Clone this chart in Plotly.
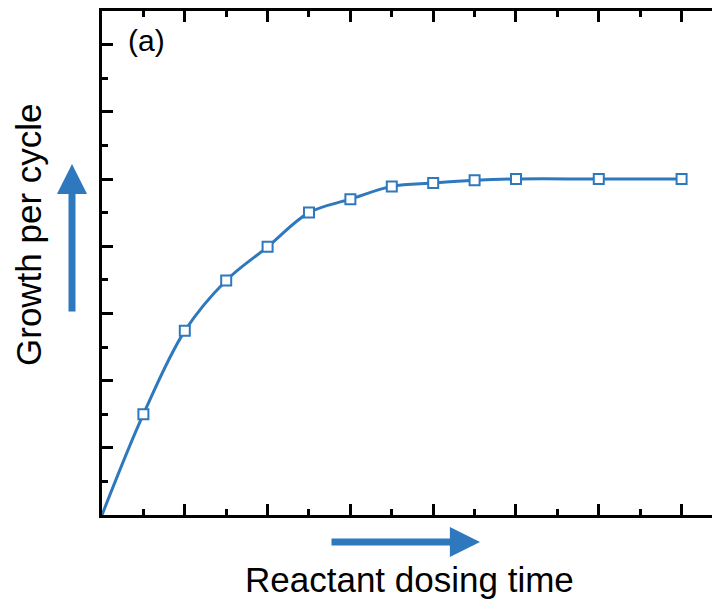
import plotly.graph_objects as go

# dosing time (arbitrary units) and growth per cycle (arbitrary units)
dose_time = [0, 0.5, 1, 1.5, 2, 2.5, 3, 3.5, 4, 4.5, 5, 6, 7]
growth = [0, 1.50, 2.74, 3.49, 3.99, 4.50, 4.70, 4.89, 4.94, 4.98, 5.0, 5.0, 5.0]

x_range = [0, 7.464]
y_range = [0, 7.5]

blue = '#2E78BE'
font = 'Liberation Sans, Arial, sans-serif'

fig = go.Figure()

# smooth curve through the origin
fig.add_trace(go.Scatter(
    x=dose_time, y=growth, mode='lines',
    line=dict(color=blue, width=3, shape='spline', smoothing=1),
    showlegend=False, hoverinfo='skip'))

# open square markers (origin marker hidden behind the axes)
fig.add_trace(go.Scatter(
    x=dose_time[1:], y=growth[1:], mode='markers',
    marker=dict(symbol='square', size=10, color='white',
                line=dict(color=blue, width=2)),
    showlegend=False, cliponaxis=False))

tick_style = dict(ticks='inside', ticklen=11, tickwidth=3, tickcolor='black',
                  showticklabels=False, showgrid=False, zeroline=False,
                  dtick=1, tick0=0)
minor_style = dict(ticks='inside', ticklen=6, tickwidth=2.5, tickcolor='black',
                   dtick=0.5, tick0=0, showgrid=False)

# page body has an 8px margin, so the figure is sized/offset to compensate
fig.update_layout(
    width=712, height=593,
    margin=dict(l=94, r=0, t=3, b=86),
    plot_bgcolor='white', paper_bgcolor='white',
    font=dict(family=font, color='black'),
    xaxis=dict(range=x_range, showline=True, linewidth=3, linecolor='black',
               mirror='ticks', minor=minor_style, **tick_style),
    yaxis=dict(range=y_range, showline=True, linewidth=3, linecolor='black',
               mirror=False, minor=minor_style, **tick_style),
    yaxis2=dict(range=y_range, overlaying='y', side='right', showline=False,
                minor=minor_style, **tick_style),
)

fig.add_annotation(text='(a)', xref='paper', yref='paper',
                   x=(146 - 102) / 618, y=(515 - 40) / 504,
                   showarrow=False, font=dict(size=30),
                   xanchor='center', yanchor='middle')

fig.add_annotation(text='Reactant dosing time', xref='paper', yref='paper',
                   x=(409 - 102) / 618, y=(515 - 579) / 504,
                   showarrow=False, font=dict(size=35),
                   xanchor='center', yanchor='middle')

fig.add_annotation(text='Growth per cycle', xref='paper', yref='paper',
                   x=(28 - 102) / 618, y=(515 - 235) / 504,
                   showarrow=False, font=dict(size=35), textangle=-90,
                   xanchor='center', yanchor='middle')

# direction arrows
fig.add_annotation(text='', xref='paper', yref='paper',
                   x=(480 - 102) / 618, y=(515 - 542) / 504,
                   ax=-150, ay=0, showarrow=True,
                   arrowhead=2, arrowwidth=7, arrowsize=0.86, arrowcolor=blue)
fig.add_annotation(text='', xref='paper', yref='paper',
                   x=(72 - 102) / 618, y=(515 - 164) / 504,
                   ax=0, ay=149, showarrow=True,
                   arrowhead=2, arrowwidth=7, arrowsize=0.86, arrowcolor=blue)

fig.write_html("out.html")
